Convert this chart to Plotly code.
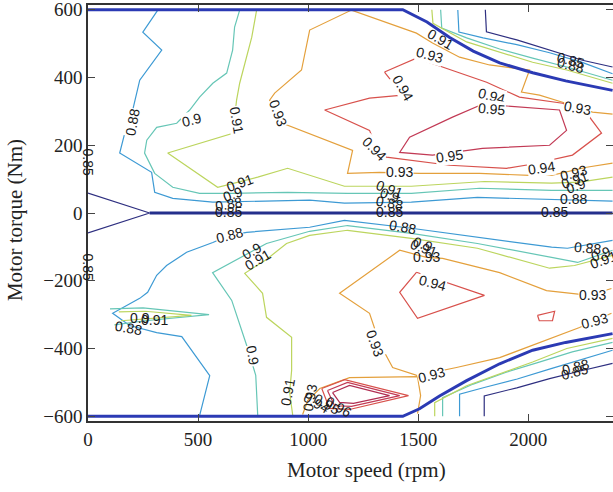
import plotly.graph_objects as go

# ---------------- data (speed in rpm, torque in Nm) ----------------
levels = [0.85, 0.88, 0.9, 0.91, 0.93, 0.94, 0.95, 0.96]
level_colors = {0.85: "#2e2f80", 0.88: "#3d9ad4", 0.9: "#66c6b6", 0.91: "#bcd55e",
                0.93: "#e4a03c", 0.94: "#d8514c", 0.95: "#c23a55", 0.96: "#b02d52"}

# max-torque envelope
env_top_speed = [0, 1430, 1540, 1643, 1750, 1870, 2020, 2170, 2383]
env_top_torque = [600, 600, 564, 518, 478, 443, 414, 390, 362]
env_bot_speed = [0, 1430, 1506, 1597, 1720, 1870, 2020, 2170, 2383]
env_bot_torque = [-600, -600, -578, -540, -495, -445, -405, -382, -356]
zero_speed = [280, 2383]
zero_torque = [0, 0]

# 0.85
e085_left_speed = [0, 280, 0]
e085_left_torque = [59, 0, -59]
e085_tr_speed = [1805, 1810, 1948, 2097, 2246, 2383]
e085_tr_torque = [600, 535, 511, 481, 451, 431]
e085_br_speed = [1800, 1800, 1948, 2097, 2246, 2383]
e085_br_torque = [-600, -540, -516, -489, -465, -444]

# 0.88
e088_up_speed = [317, 249, 335, 235, 203, 167, 144, 289, 303, 385, 567, 1007, 1165, 1469, 1769, 2073, 2383]
e088_up_torque = [599, 534, 481, 392, 304, 236, 177, 120, 61, 43, 32, 38, 29, 32, 46, 40, 35]
e088_lo_speed = [507, 553, 426, 312, 189, 112, 235, 271, 312, 357, 448, 567, 643, 721, 1007, 1165, 1469, 1769, 2106, 2178, 2383]
e088_lo_torque = [-598, -480, -365, -353, -332, -296, -252, -234, -184, -155, -116, -87, -66, -57, -42, -22, -45, -72, -101, -104, -81]
e088_tr_speed = [1680, 1685, 1795, 1948, 2097, 2248, 2383]
e088_tr_torque = [599, 534, 517, 497, 473, 444, 411]
e088_br_speed = [1688, 1688, 1800, 1950, 2100, 2250, 2383]
e088_br_torque = [-600, -535, -515, -490, -460, -430, -405]

# 0.9
e090_up_speed = [689, 666, 657, 630, 567, 507, 462, 403, 312, 267, 257, 303, 385, 507, 657, 907, 1179, 1469, 1779, 2106, 2233, 2383]
e090_up_torque = [599, 549, 481, 413, 383, 342, 304, 265, 253, 215, 177, 117, 76, 58, 58, 61, 58, 58, 73, 67, 67, 67]
e090_lo_speed = [771, 762, 721, 653, 566, 689, 811, 1007, 1179, 1469, 1769, 2106, 2224, 2383]
e090_lo_torque = [-597, -479, -391, -258, -176, -134, -90, -54, -37, -60, -90, -131, -146, -110]
e090_tr_speed = [1602, 1607, 1720, 1870, 2020, 2175, 2383]
e090_tr_torque = [600, 546, 517, 484, 457, 431, 392]
e090_br_speed = [1611, 1611, 1750, 1900, 2050, 2200, 2383]
e090_br_torque = [-600, -545, -505, -470, -440, -410, -382]
e090_isl_speed = [100, 250, 550, 260, 120]
e090_isl_torque = [-283, -280, -300, -318, -330]

# 0.91
e091_up_speed = [766, 744, 689, 675, 658, 507, 362, 589, 771, 907, 1007, 1165, 1469, 1801, 2106, 2233, 2383]
e091_up_torque = [599, 519, 383, 333, 235, 206, 177, 76, 106, 132, 111, 79, 79, 93, 88, 91, 106]
e091_lo_speed = [930, 916, 925, 925, 811, 793, 712, 811, 902, 1007, 1179, 1469, 1769, 2097, 2210, 2383]
e091_lo_torque = [-597, -530, -465, -367, -308, -237, -178, -137, -90, -66, -51, -75, -104, -163, -155, -125]
e091_tr_speed = [1562, 1567, 1720, 1870, 2020, 2175, 2383]
e091_tr_torque = [600, 560, 505, 475, 445, 422, 383]
e091_br_speed = [1575, 1575, 1720, 1870, 2020, 2175, 2383]
e091_br_torque = [-600, -560, -510, -475, -440, -400, -370]
e091_isl_speed = [140, 260, 470, 270, 150]
e091_isl_torque = [-292, -290, -302, -312, -318]

# 0.93
e093_up_speed = [2383, 2292, 2156, 2051, 1969, 2006, 1824, 1688, 1565, 1492, 1197, 1007, 970, 848, 825, 884, 1202, 1179, 1325, 1506, 1779, 2006, 2106, 2265, 2383]
e093_up_torque = [292, 298, 327, 348, 357, 422, 437, 460, 502, 531, 599, 540, 422, 354, 333, 265, 185, 117, 120, 117, 117, 111, 111, 135, 147]
e093_lo_speed = [2378, 2278, 2083, 1870, 1611, 1538, 1416, 1143, 1279, 1325, 1384, 1497, 1674, 1870, 2233, 2378]
e093_lo_torque = [-223, -243, -229, -176, -134, -131, -110, -237, -296, -385, -456, -480, -456, -427, -338, -296]
e093_pk_speed = [975, 998, 1053, 1188, 1497, 1511, 1497]
e093_pk_torque = [-595, -554, -518, -486, -483, -539, -592]

# 0.94
e094_up_speed = [1347, 1492, 1597, 1747, 1811, 1960, 2156, 2265, 2333, 2201, 2015, 1901, 1643, 1356, 1293, 1279, 1075, 1279, 1429, 1347]
e094_up_torque = [416, 457, 434, 401, 386, 342, 324, 295, 236, 171, 144, 132, 141, 165, 221, 244, 304, 339, 348, 416]
e094_lo_speed = [1492, 1416, 1497, 1801, 1492]
e094_lo_torque = [-175, -234, -311, -243, -175]
e094_sm_speed = [2042, 2120, 2110, 2050, 2042]
e094_sm_torque = [-302, -290, -318, -318, -302]
e094_pk_speed = [1062, 1166, 1456, 1188, 1097, 1062]
e094_pk_torque = [-518, -492, -539, -580, -577, -518]

# 0.95
e095_up_speed = [1802, 1656, 1461, 1416, 1565, 1792, 2097, 2174, 2142, 1960, 1860, 1802]
e095_up_torque = [324, 283, 224, 179, 171, 191, 200, 244, 304, 312, 318, 324]
e095_pk_speed = [1088, 1179, 1416, 1197, 1120, 1088]
e095_pk_torque = [-524, -500, -539, -571, -569, -524]

# 0.96
e096_pk_speed = [1111, 1188, 1370, 1206, 1143, 1111]
e096_pk_torque = [-530, -509, -539, -562, -559, -530]

contour_lines = [
    (0.85, e085_left_speed, e085_left_torque), (0.85, e085_tr_speed, e085_tr_torque),
    (0.85, e085_br_speed, e085_br_torque),
    (0.88, e088_up_speed, e088_up_torque), (0.88, e088_lo_speed, e088_lo_torque),
    (0.88, e088_tr_speed, e088_tr_torque), (0.88, e088_br_speed, e088_br_torque),
    (0.9, e090_up_speed, e090_up_torque), (0.9, e090_lo_speed, e090_lo_torque),
    (0.9, e090_tr_speed, e090_tr_torque), (0.9, e090_br_speed, e090_br_torque),
    (0.9, e090_isl_speed, e090_isl_torque),
    (0.91, e091_up_speed, e091_up_torque), (0.91, e091_lo_speed, e091_lo_torque),
    (0.91, e091_tr_speed, e091_tr_torque), (0.91, e091_br_speed, e091_br_torque),
    (0.91, e091_isl_speed, e091_isl_torque),
    (0.93, e093_up_speed, e093_up_torque), (0.93, e093_lo_speed, e093_lo_torque),
    (0.93, e093_pk_speed, e093_pk_torque),
    (0.94, e094_up_speed, e094_up_torque), (0.94, e094_lo_speed, e094_lo_torque),
    (0.94, e094_sm_speed, e094_sm_torque), (0.94, e094_pk_speed, e094_pk_torque),
    (0.95, e095_up_speed, e095_up_torque), (0.95, e095_pk_speed, e095_pk_torque),
    (0.96, e096_pk_speed, e096_pk_torque),
]

# contour labels: text, speed, torque, angle
label_text = ["0.88", "0.9", "0.91", "0.93", "0.94", "0.93", "0.91", "0.94", "0.95", "0.93",
              "0.85", "0.88", "0.95", "0.94", "0.93", "0.94", "0.93", "0.91", "0.9", "0.88",
              "0.91", "0.9", "0.88", "0.85", "0.91", "0.9", "0.88", "0.85", "0.85",
              "0.88", "0.9", "0.91", "0.9", "0.91", "0.88", "0.9", "0.91", "0.93", "0.94",
              "0.95", "0.96", "0.93", "0.93", "0.94", "0.93", "0.93", "0.93", "0.88", "0.9",
              "0.91", "0.88", "0.85", "0.9", "0.91", "0.88", "0.85", "0.85"]
label_speed = [203, 471, 675, 862, 1430, 1552, 1600, 1835, 1835, 2225,
               2190, 2190, 1643, 1302, 1416, 2060, 2205, 2210, 2215, 2205,
               689, 660, 640, 640, 1370, 1370, 1370, 1370, 2120,
               645, 745, 770, 235, 300, 185, 750, 905, 1007, 1040,
               1085, 1140, 1302, 1561, 1565, 1540, 2290, 2300, 1430, 1520,
               1525, 2270, 2210, 2330, 2340, 2215, 0, 0]
label_torque = [268, 274, 274, 294, 368, 465, 514, 345, 306, 310,
                452, 437, 167, 190, 120, 132, 118, 98, 80, 40,
                90, 55, 28, 2, 72, 52, 30, 2, 2,
                -66, -112, -138, -311, -316, -338, -421, -530, -545, -560,
                -565, -572, -385, -478, -206, -131, -243, -318, -42, -92,
                -104, -104, -470, -122, -140, -455, 152, -158]
label_angle = [-80, -15, 80, 70, 60, 15, 30, 15, 5, 10,
               15, 15, -8, 45, 0, -8, -15, -20, -20, 0,
               -20, -20, -10, 0, 20, 20, 10, 0, 0,
               -15, -30, -30, 0, 0, 10, 80, -80, -80, 30,
               30, 30, 70, -15, 15, 0, 0, -15, 10, 20,
               20, 5, -15, -20, -20, -15, 90, 90]
# labels that stand alone break the contour line beneath them (white box)
boxed_labels = {0, 1, 2, 3, 4, 5, 7, 8, 9, 12, 13, 14, 15, 29, 35, 41, 42, 43, 45, 46}

x_ticks = [0, 500, 1000, 1500, 2000]
y_ticks = [-600, -400, -200, 0, 200, 400, 600]
x_title = "Motor speed (rpm)"
y_title = "Motor torque (Nm)"

# ---------------- figure ----------------
fig = go.Figure()
for lev, sx, ty in contour_lines:
    fig.add_trace(go.Scatter(x=sx, y=ty, mode="lines",
                             line=dict(color=level_colors[lev], width=1.2),
                             hoverinfo="skip", showlegend=False))

fig.add_trace(go.Scatter(x=zero_speed, y=zero_torque, mode="lines",
                         line=dict(color="#252f8c", width=3), showlegend=False))
fig.add_trace(go.Scatter(x=env_top_speed, y=env_top_torque, mode="lines",
                         line=dict(color="#2b3ab4", width=3), showlegend=False))
fig.add_trace(go.Scatter(x=env_bot_speed, y=env_bot_torque, mode="lines",
                         line=dict(color="#2b3ab4", width=3), showlegend=False))

for i, (t, sx, ty, a) in enumerate(zip(label_text, label_speed, label_torque, label_angle)):
    fig.add_annotation(x=sx, y=ty, text=t, textangle=a, showarrow=False,
                       bgcolor="white" if i in boxed_labels else "rgba(0,0,0,0)",
                       borderpad=0,
                       font=dict(family="Liberation Sans, Arial", size=14, color="#1a1a1a"))

serif = "Liberation Serif, Times New Roman, serif"
# axis titles (the original figure is cropped on the right, so the x title sits right of centre)
fig.add_annotation(xref="paper", yref="paper", x=0.531, y=-0.118, text=x_title,
                   showarrow=False, xanchor="center", yanchor="middle",
                   font=dict(family=serif, size=21, color="#222"))
fig.add_annotation(xref="paper", yref="paper", x=-0.139, y=0.483, text=y_title,
                   textangle=-90, showarrow=False, xanchor="center", yanchor="middle",
                   font=dict(family=serif, size=21, color="#222"))

fig.update_layout(
    width=613, height=492,
    margin=dict(l=88, r=0, t=5, b=71),
    plot_bgcolor="white", paper_bgcolor="white",
    font=dict(family=serif, size=19, color="#222"),
)
fig.update_xaxes(range=[0, 2385], tickvals=x_ticks, ticks="inside", ticklen=7,
                 showline=True, linecolor="#333", linewidth=1.5, mirror="ticks",
                 showgrid=False, zeroline=False, automargin=False,
                 ticklabeloverflow="allow",
                 tickfont=dict(family=serif, size=19))
fig.update_yaxes(range=[-614, 614], tickvals=y_ticks, ticks="inside", ticklen=7,
                 showline=True, linecolor="#333", linewidth=1.5, mirror="ticks",
                 showgrid=False, zeroline=False, automargin=False,
                 ticklabeloverflow="allow",
                 tickfont=dict(family=serif, size=19))

fig.write_html("out.html", config={"displayModeBar": False},
               post_script="document.body.style.margin='0px';")
